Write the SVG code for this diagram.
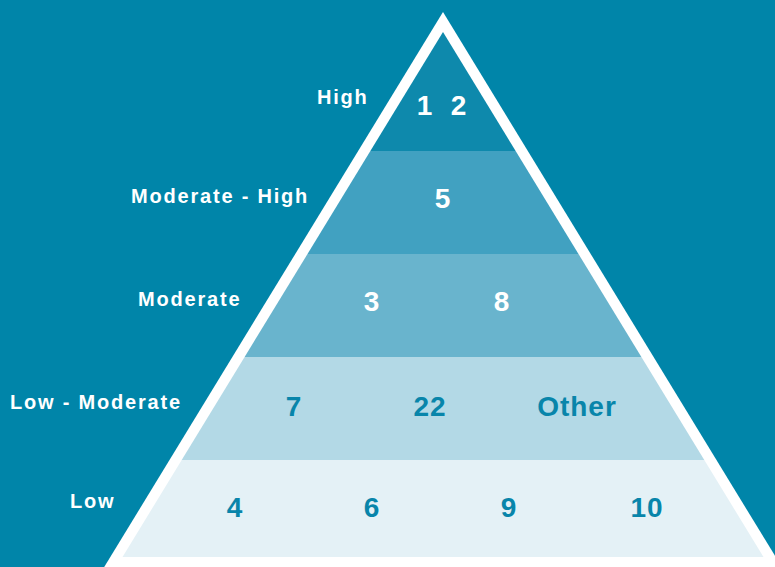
<svg xmlns="http://www.w3.org/2000/svg" width="775" height="567" viewBox="0 0 775 567">
  <style>
    .lbl { font-family: "Liberation Sans", Arial, sans-serif; font-weight: bold; font-size: 20px; fill: #ffffff; letter-spacing: 1.8px; }
    .num { font-family: "Liberation Sans", Arial, sans-serif; font-weight: bold; font-size: 28px; text-anchor: middle; letter-spacing: 1px; }
    .w { fill: #ffffff; }
    .d { fill: #0885AA; }
  </style>
  <rect x="0" y="0" width="775" height="567" fill="#0085A9"/>
  <g id="pyramid-frame">
    <polygon points="443,12 104.2,567 781.8,567" fill="#ffffff"/>
  </g>
  <g id="band-high">
    <polygon points="443,32 515.65,151 370.35,151" fill="#0E89AC"/>
    <text class="lbl" x="317" y="104">High</text>
    <text class="num w" x="425" y="115">1</text>
    <text class="num w" x="459" y="115">2</text>
  </g>
  <g id="band-moderate-high">
    <polygon points="370.35,151 515.65,151 578.5,254 307.5,254" fill="#41A1C1"/>
    <text class="lbl" x="131" y="203">Moderate - High</text>
    <text class="num w" x="443" y="208">5</text>
  </g>
  <g id="band-moderate">
    <polygon points="307.5,254 578.5,254 641.4,357 244.6,357" fill="#69B4CD"/>
    <text class="lbl" x="138" y="306">Moderate</text>
    <text class="num w" x="372" y="311">3</text>
    <text class="num w" x="502" y="311">8</text>
  </g>
  <g id="band-low-moderate">
    <polygon points="244.6,357 641.4,357 704.3,460 181.7,460" fill="#B3D9E6"/>
    <text class="lbl" x="10" y="409">Low - Moderate</text>
    <text class="num d" x="294" y="416">7</text>
    <text class="num d" x="430" y="416">22</text>
    <text class="num d" x="577" y="416">Other</text>
  </g>
  <g id="band-low">
    <polygon points="181.7,460 704.3,460 763.5,557 122.5,557" fill="#E4F1F6"/>
    <text class="lbl" x="70" y="508">Low</text>
    <text class="num d" x="235" y="517">4</text>
    <text class="num d" x="372" y="517">6</text>
    <text class="num d" x="509" y="517">9</text>
    <text class="num d" x="647" y="517">10</text>
  </g>
  <g id="connectors"/>
</svg>
